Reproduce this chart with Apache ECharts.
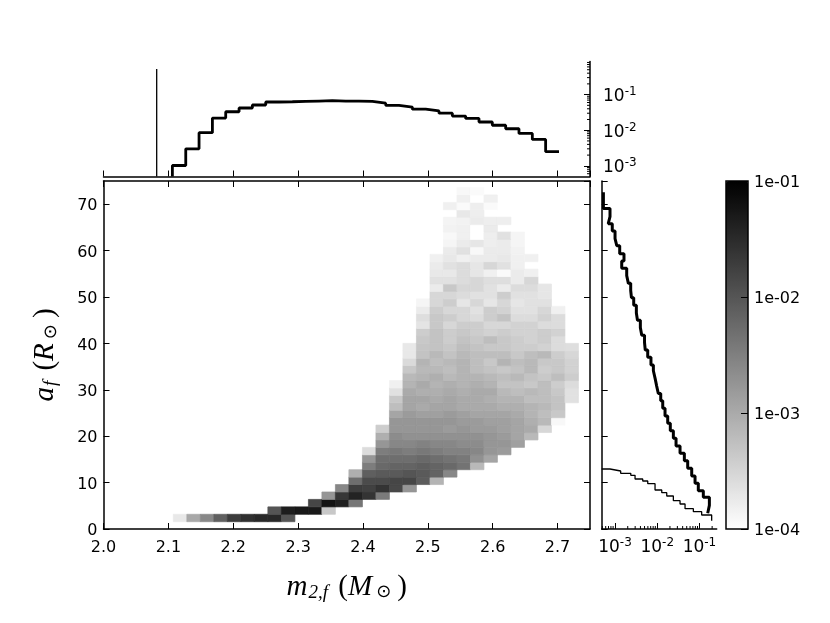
<!DOCTYPE html>
<html><head><meta charset="utf-8">
<style>html,body{margin:0;padding:0;background:#fff}#c{width:830px;height:623px}</style>
<script src="https://cdn.jsdelivr.net/npm/echarts@6/dist/echarts.min.js"></script>
</head><body><div id="c"></div>
<script>
const xEdges=[2.1077,2.1285,2.1493,2.1702,2.1910,2.2118,2.2326,2.2534,2.2743,2.2951,2.3159,2.3367,2.3575,2.3783,2.3992,2.4200,2.4408,2.4616,2.4824,2.5033,2.5241,2.5449,2.5657,2.5865,2.6073,2.6282,2.6490,2.6698,2.6906,2.7114,2.7322];
const yEdges=[1.57,3.17,4.77,6.38,7.98,9.58,11.18,12.78,14.38,15.99,17.59,19.19,20.79,22.39,23.99,25.6,27.2,28.8,30.4,32,33.6,35.2,36.8,38.4,40,41.6,43.2,44.8,46.4,48,49.6,51.2,52.8,54.4,56,57.6,59.2,60.8,62.4,64,65.6,67.2,68.8,70.4,72,73.6];
// each row: first column index, then -100*log10(density)
const densityRows=[
[0,373,298,260,213,171,156,147,147,200],
[7,200,135,129,129,335],
[10,182,124,138,239],
[11,276,165,141,161,245],
[12,259,173,176,161,185,276],
[13,229,188,188,182,182,208,312],
[13,306,212,206,206,200,206,218,259],
[14,247,224,218,218,212,218,224,235,318],
[14,276,229,229,229,224,229,235,241,271,294],
[14,359,247,241,247,241,247,253,253,259,276,282],
[15,276,259,259,253,259,259,265,265,276,276,288],
[15,306,265,271,271,271,271,271,271,276,282,294,318],
[15,341,276,276,276,276,282,276,282,282,288,294,300,353],
[16,276,276,276,276,276,282,282,288,288,294,306,318,392],
[16,294,282,288,288,282,288,294,294,294,300,312,324,335],
[16,324,294,300,294,294,300,300,300,306,306,312,318,329],
[16,335,294,294,300,294,300,300,306,312,312,324,324,329,365],
[16,365,300,306,306,300,306,300,300,318,324,318,324,335,365],
[16,382,312,300,312,306,312,306,312,329,329,335,324,341,359],
[17,318,312,306,318,312,312,318,324,318,329,335,324,341],
[17,335,318,318,324,312,324,329,335,329,318,341,335,347],
[17,356,312,324,318,312,324,335,312,324,318,335,335,347],
[17,373,329,318,329,318,324,324,324,335,324,318,341,353],
[17,373,332,329,335,324,329,335,335,341,341,347,359,361],
[18,335,329,341,329,335,324,335,341,347,341,359],
[18,341,329,341,335,341,347,341,347,347,341,347],
[18,368,335,353,341,341,353,353,347,347,359,359],
[18,361,335,341,353,359,341,329,359,359,347,359],
[18,376,341,353,353,365,341,347,365,365,353,382],
[18,388,353,341,371,353,371,353,371,365,365],
[19,353,353,359,365,365,341,365,365,371],
[19,376,335,353,353,365,376,359,359,371],
[19,365,365,359,353,361,361,376,353],
[19,373,373,359,371,382,394,376,382],
[19,376,365,359,371,353,365,382],
[19,382,373,382,376,376,373,382,382],
[20,376,365,392,376,376,385],
[20,388,376,371,380,376,388],
[20,392,382,400,380,365,388],
[20,385,382,400,376],
[20,387,385,376,380,380],
[21,373,380],
[20,382,394,380,394],
[21,382,400,382],
[21,392,394]
];
const topEdges=[2.1062,2.1268,2.1473,2.1679,2.1884,2.2090,2.2295,2.2501,2.2706,2.2912,2.3117,2.3323,2.3528,2.3734,2.3939,2.4145,2.4350,2.4556,2.4761,2.4967,2.5172,2.5378,2.5583,2.5789,2.5994,2.6200,2.6405,2.6611,2.6816,2.7022];
const topValues=[0.00102,0.0030,0.0085,0.0219,0.033,0.042,0.051,0.062,0.063,0.0645,0.066,0.0675,0.066,0.066,0.0645,0.0575,0.050,0.0447,0.039,0.0347,0.030,0.025,0.0214,0.017,0.0138,0.011,0.0081,0.0055,0.0025];
const spikeX=2.082, spikeValue=0.52;
const rightEdges=[72.56,69.1,67.3,65.8,64.2,62.6,61.06,59.3,57.76,56.2,54.6,52.95,51.4,49.85,48.2,46.55,44.97,43.4,41.74,40.16,38.58,37.0,35.34,34.1,32.47,30.8,29.2,27.65,26.0,24.35,22.77,21.2,19.54,17.9,16.3,14.7,13.1,11.4,9.85,8.25,6.83,5.1,3.4];
const rightValues=[5.3e-4,7.6e-4,6.9e-4,8.6e-4,1.0e-3,1.1e-3,1.29e-3,1.63e-3,1.44e-3,1.89e-3,2.07e-3,2.35e-3,2.45e-3,2.77e-3,3.2e-3,3.4e-3,3.98e-3,4.3e-3,5.0e-3,5.2e-3,5.95e-3,7.1e-3,8.1e-3,8.9e-3,9.7e-3,1.06e-2,1.21e-2,1.35e-2,1.53e-2,1.77e-2,2.04e-2,2.41e-2,2.79e-2,3.47e-2,4.39e-2,5.27e-2,6.56e-2,7.87e-2,9.4e-2,0.1236,0.172,0.157];
const thinX=[4.83e-4,7.6e-4,1.36e-3,2.36e-3,2.98e-3,4.53e-3,5.96e-3,8.87e-3,1.28e-2,1.68e-2,2.41e-2,3.47e-2,4.56e-2,7.18e-2,0.113,0.195];
const thinY=[12.93,12.5,12.0,11.56,10.78,10.34,9.77,8.4,7.83,7.11,6.1,5.39,4.38,3.73,3.02,1.79];
const topMinorTicks=[6e-4,7e-4,8e-4,9e-4,2e-3,3e-3,4e-3,5e-3,6e-3,7e-3,8e-3,9e-3,2e-2,3e-2,4e-2,5e-2,6e-2,7e-2,8e-2,9e-2,0.2,0.3,0.4,0.5,0.6,0.7,0.8];
const rightMinorTicks=[5e-4,6e-4,7e-4,8e-4,9e-4,2e-3,3e-3,4e-3,5e-3,6e-3,7e-3,8e-3,9e-3,2e-2,3e-2,4e-2,5e-2,6e-2,7e-2,8e-2,9e-2,0.2];

const cells=[];
densityRows.forEach((row,r)=>{for(let i=1;i<row.length;i++){const c=row[0]+i-1;cells.push([xEdges[c],yEdges[r],-row[i]/100,xEdges[c+1],yEdges[r+1]]);}});
const topLine=[[topEdges[0],5.01e-4]].concat(topValues.map((v,i)=>[topEdges[i+1],v]));
const rightLine=rightValues.map((v,i)=>[v,rightEdges[i]]);
rightLine.push([rightValues[rightValues.length-1],rightEdges[rightEdges.length-1]]);
const thinLine=thinX.map((x,i)=>[x,thinY[i]]);

const tickFont={fontFamily:'DejaVu Sans',fontSize:16,color:'#000'};
const tickRich={a:{fontFamily:'DejaVu Sans',fontSize:16,color:'#000',padding:[4,0,0,0]}};
const line={lineStyle:{color:'#000',width:1.5}};
const sp=(extra)=>Object.assign({axisLine:Object.assign({show:true,onZero:false},line),splitLine:{show:false},axisTick:{show:true,inside:true,length:6,lineStyle:{color:'#000',width:1}}},extra);
const noLabel={axisLabel:{show:false}};
const xMain={type:'value',min:2.0,max:2.75,interval:0.1};
const yMain={type:'value',min:0,max:75,interval:10};
const pow=(v)=>'{b|10}{s|'+Math.round(Math.log10(v))+'}';
const powRich={b:{fontFamily:'DejaVu Sans',fontSize:17,color:'#000'},s:{fontFamily:'DejaVu Sans',fontSize:12,color:'#000',padding:[0,0,9,0]}};
const nameRich={m:{fontFamily:'Liberation Serif',fontStyle:'italic',fontSize:29,color:'#000'},
 s:{fontFamily:'Liberation Serif',fontStyle:'italic',fontSize:19,color:'#000',padding:[11,0,0,1]},
 o:{fontFamily:'DejaVu Sans',fontSize:18,color:'#000',padding:[11,3,0,4]},
 t:{fontFamily:'Liberation Serif',fontSize:29,color:'#000',padding:[0,0,0,3]}};

const minorSeries=(name,xi,yi,data,isTop)=>({type:'custom',name,xAxisIndex:xi,yAxisIndex:yi,silent:true,clip:false,data,
 encode:isTop?{y:0}:{x:0},dimensions:['v'],
 renderItem:(p,api)=>{const v=api.value(0);
  const a=isTop?api.coord([2.75,v]):api.coord([v,0]);
  return {type:'line',shape:isTop?{x1:a[0],y1:a[1],x2:a[0]-3,y2:a[1]}:{x1:a[0],y1:a[1],x2:a[0],y2:a[1]-3},style:{stroke:'#000',lineWidth:1}};}});

const option={
 animation:false,backgroundColor:'#fff',
 grid:[
  {left:103.5,top:181,width:486.5,height:348,containLabel:false},
  {left:103.5,top:61.5,width:486.5,height:115,containLabel:false},
  {left:601.7,top:181,width:115,height:348,containLabel:false},
  {left:726,top:181,width:22,height:348,containLabel:false,z:6,show:true,borderColor:'#000',borderWidth:1.5,backgroundColor:'transparent'}
 ],
 xAxis:[
  sp(Object.assign({},xMain,{gridIndex:0,position:'bottom',axisLabel:Object.assign({margin:11,showMaxLabel:false,formatter:v=>v.toFixed(1)},tickFont),
    name:'{m|m}{s|2,f}{t| (}{m|M}{o|⊙}{t|)}',nameLocation:'middle',nameGap:43,nameTextStyle:{rich:nameRich}})),
  sp(Object.assign({},xMain,{gridIndex:0,position:'top'},noLabel)),
  sp(Object.assign({},xMain,{gridIndex:1,position:'bottom'},noLabel)),
  sp({type:'log',logBase:10,gridIndex:2,position:'bottom',min:4.83e-4,max:0.2565,
    axisLabel:{margin:8,showMinLabel:false,showMaxLabel:false,formatter:v=>pow(v),rich:powRich}}),
  {type:'value',gridIndex:3,show:false,min:0,max:1}
 ],
 yAxis:[
  sp(Object.assign({},yMain,{gridIndex:0,position:'left',axisLabel:{margin:6,showMaxLabel:false,showMinLabel:true,formatter:v=>'{a|'+v+'}',rich:tickRich},
    name:'{m|a}{s|f}{t| (}{m|R}{o|⊙}{t|)}',nameLocation:'middle',nameGap:43,nameRotate:90,nameTextStyle:{rich:nameRich}})),
  sp(Object.assign({},yMain,{gridIndex:0,position:'right'},noLabel)),
  sp({type:'log',logBase:10,gridIndex:1,position:'right',min:5.01e-4,max:0.851,
    axisLabel:{margin:13,padding:[4,0,0,0],showMinLabel:false,showMaxLabel:false,formatter:v=>pow(v),rich:powRich}}),
  sp(Object.assign({},yMain,{gridIndex:2,position:'left'},noLabel)),
  sp({type:'log',logBase:10,gridIndex:3,position:'right',min:1e-4,max:0.1,z:6,axisLine:{show:false,onZero:false},
    axisTick:{show:true,inside:true,length:7,lineStyle:{color:'#000',width:1}},
    axisLabel:{margin:6,formatter:v=>'{a|1e-0'+Math.round(-Math.log10(v))+'}',rich:tickRich}})
 ],
 visualMap:{type:'continuous',seriesIndex:0,dimension:2,min:-4,max:-1,left:726,top:181,itemWidth:22,itemHeight:348,padding:0,orient:'vertical',
  calculable:false,showLabel:false,text:null,hoverLink:false,realtime:false,inRange:{color:['#ffffff','#000000']}},
 series:[
  {type:'custom',name:'density',xAxisIndex:0,yAxisIndex:0,data:cells,silent:true,encode:{x:0,y:1},
   renderItem:(p,api)=>{const a=api.coord([api.value(0),api.value(1)]),b=api.coord([api.value(3),api.value(4)]);const col=api.visual('color');
     return {type:'rect',shape:{x:a[0],y:b[1],width:b[0]-a[0],height:a[1]-b[1]},style:{fill:col,stroke:col,lineWidth:0.7}};}},
  {type:'line',name:'top',xAxisIndex:2,yAxisIndex:2,data:topLine,step:'start',showSymbol:false,symbol:'none',lineStyle:{color:'#000',width:2.8}},
  {type:'line',name:'spike',xAxisIndex:2,yAxisIndex:2,data:[[spikeX,5.01e-4],[spikeX,spikeValue]],showSymbol:false,symbol:'none',lineStyle:{color:'#000',width:1.3}},
  {type:'line',name:'right',xAxisIndex:3,yAxisIndex:3,data:rightLine,step:'start',showSymbol:false,symbol:'none',lineStyle:{color:'#000',width:3}},
  {type:'line',name:'rightThin',xAxisIndex:3,yAxisIndex:3,data:thinLine,step:'end',showSymbol:false,symbol:'none',lineStyle:{color:'#000',width:1.3}},
  minorSeries('topMinor',2,2,topMinorTicks,true),
  minorSeries('rightMinor',3,3,rightMinorTicks,false)
 ]
};
const chart=echarts.init(document.getElementById('c'),null,{renderer:'canvas'});
chart.setOption(option);
</script></body></html>
